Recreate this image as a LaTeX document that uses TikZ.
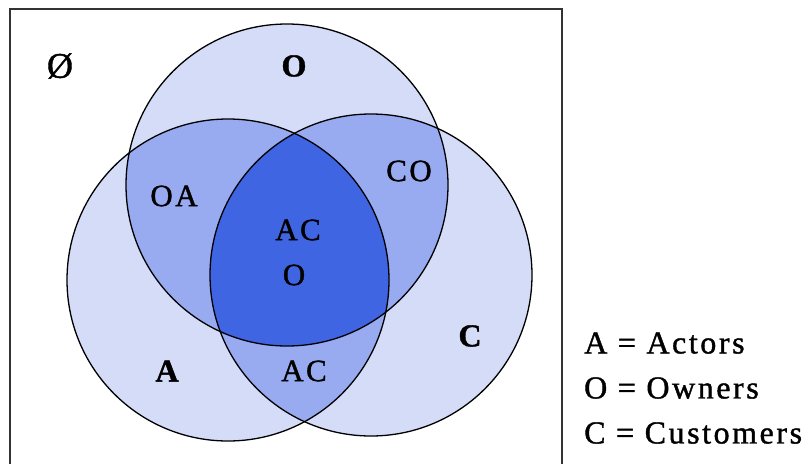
\documentclass[tikz,border=0pt]{standalone}
\usepackage{fontspec}
\setmainfont{Liberation Serif}[LetterSpace=8, FakeBold=1.2]
\definecolor{vlight}{RGB}{212,220,248}
\definecolor{vmid}{RGB}{152,170,240}
\definecolor{vdark}{RGB}{64,101,226}
\begin{document}
\begin{tikzpicture}[x=1pt,y=-1pt,
  lbl/.style={font=\fontsize{31}{34}\selectfont, inner sep=0pt},
  blbl/.style={font=\fontsize{32}{35}\selectfont\bfseries, inner sep=0pt},
  leg/.style={font=\fontsize{32}{35}\selectfont, inner sep=0pt, anchor=west},
  ring/.style={draw=black, line width=1.3pt}]
\useasboundingbox (0,0) rectangle (810,463);
\fill[white] (0,0) rectangle (810,463);
\def\rA{161}
\coordinate (cA) at (228,280);
\coordinate (cC) at (371,275);
\coordinate (cO) at (287,185);
% light fills
\fill[vlight] (cA) circle (\rA);
\fill[vlight] (cC) circle (\rA);
\fill[vlight] (cO) circle (\rA);
% pairwise
\begin{scope}
  \clip (cA) circle (\rA);
  \fill[vmid] (cC) circle (\rA);
  \fill[vmid] (cO) circle (\rA);
\end{scope}
\begin{scope}
  \clip (cC) circle (\rA);
  \fill[vmid] (cO) circle (\rA);
\end{scope}
% triple
\begin{scope}
  \clip (cA) circle (\rA);
  \clip (cC) circle (\rA);
  \fill[vdark] (cO) circle (\rA);
\end{scope}
\draw[ring] (cA) circle (\rA);
\draw[ring] (cC) circle (\rA);
\draw[ring] (cO) circle (\rA);
% frame
\draw[line width=2pt, draw=black!80] (10,475) -- (10,9) -- (562,9) -- (562,475);
% labels
\node[font=\fontsize{36}{40}\selectfont, inner sep=0pt] (empty) at (60,66) {Ø};
\node[blbl] (lO) at (294,66) {O};
\node[lbl] (lOA) at (174,196) {OA};
\node[lbl] (lCO) at (409,171) {CO};
\node[lbl] (lAC) at (298,230) {AC};
\node[lbl] (lACO) at (294,275) {O};
\node[lbl] (lAC2) at (304,371) {AC};
\node[blbl] (lA) at (167,371) {A};
\node[blbl] (lC) at (470,336) {C};
\node[leg] (legA) at (584,343) {A = Actors};
\node[leg] (legO) at (584,388) {O = Owners};
\node[leg] (legC) at (584,433) {C = Customers};
\end{tikzpicture}
\end{document}
